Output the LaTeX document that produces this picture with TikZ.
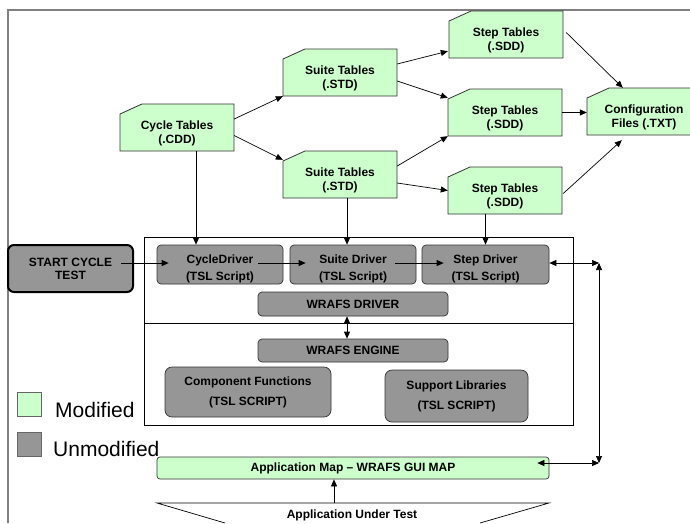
\documentclass[tikz,border=0pt]{standalone}
\usepackage{fontspec}
\setmainfont{Liberation Sans}
\usetikzlibrary{arrows.meta,calc}

\definecolor{modgreen}{HTML}{CCFFCC}
\definecolor{unmodgray}{HTML}{969696}
\definecolor{framegray}{HTML}{808080}

\tikzset{
  tblshape/.style={fill=modgreen, draw=black!80, line width=0.8pt},
  tblanchor/.style={rectangle, inner sep=0pt, minimum height=47pt},
  tbltext/.style={font=\fontsize{12}{14}\selectfont\bfseries, align=center, inner sep=0pt},
  drv/.style={rectangle, rounded corners=4pt, fill=unmodgray, draw=black!80, line width=0.7pt,
              inner sep=0pt, align=center, font=\fontsize{12}{17}\selectfont\bfseries},
  drvtxt/.style={inner sep=0pt, align=center, yshift=-4.5pt, font=\fontsize{12}{17}\selectfont\bfseries},
  lib/.style={drv, rounded corners=7pt, font=\fontsize{12}{20}\selectfont\bfseries},
  startbox/.style={drv, rounded corners=6pt, draw=black, line width=2pt,
                   font=\fontsize{12}{13}\selectfont\bfseries},
  appbox/.style={drv, fill=modgreen, rounded corners=3pt},
  legendsq/.style={rectangle, inner sep=0pt, minimum width=24pt, minimum height=24pt, draw=black!60, line width=0.6pt},
  legendtxt/.style={font=\fontsize{21}{23}\selectfont, inner sep=0pt, anchor=base west},
  arr/.style={-{Triangle[length=7pt,width=6pt]}, line width=0.7pt},
  biarr/.style={{Triangle[length=7pt,width=6pt]}-{Triangle[length=7pt,width=6pt]}, line width=0.7pt},
  plain/.style={line width=0.7pt}
}

% table file box with a cut top-left corner: name, left, top, width, text
\newcommand\tablebox[5]{%
  \filldraw[tblshape] (#2,#3+10) -- (#2+22,#3) -- (#2+#4,#3) -- (#2+#4,#3+47) -- (#2,#3+47) -- cycle;
  \node[tblanchor, minimum width=#4pt] (#1) at (#2+#4/2,#3+23.5) {};
  \node[tbltext] at ($(#1.center)+(0,5.5)$) {#5};
}

\begin{document}
\begin{tikzpicture}[x=1pt, y=-1pt]
\useasboundingbox (0,0) rectangle (690,523);
\fill[white] (0,0) rectangle (690,523);

% outer frame
\draw[framegray, line width=1.5pt] (690,10) -- (8,10) -- (8,523);

% test harness container, split into driver and engine parts
\draw[plain] (144,237) rectangle (573,425);
\draw[plain] (144,323) -- (573,323);

% data tables
\tablebox{cyc}{120}{104}{114}{Cycle Tables\\(.CDD)}
\tablebox{sta}{283}{49}{114}{Suite Tables\\(.STD)}
\tablebox{stb}{283}{151}{114}{Suite Tables\\(.STD)}
\tablebox{spa}{449}{11}{114}{Step Tables\\(.SDD)}
\tablebox{spb}{448}{89}{114}{Step Tables\\(.SDD)}
\tablebox{spc}{448}{167}{114}{Step Tables\\(.SDD)}
\begin{scope}
  \clip (0,0) rectangle (690,523);
  \tablebox{cfg}{587}{88}{114}{Configuration\\Files (.TXT)}
\end{scope}

% drivers and engine
\node[startbox, minimum width=125pt, minimum height=47pt] (start) at (70.5,268.5) {START CYCLE\\TEST};
\node[drv, minimum width=126pt, minimum height=39pt, label={[drvtxt]center:{CycleDriver\\(TSL Script)}}] (cdrv) at (220,264.5) {};
\node[drv, minimum width=126pt, minimum height=39pt, label={[drvtxt]center:{Suite Driver\\(TSL Script)}}] (sdrv) at (353,264.5) {};
\node[drv, minimum width=127pt, minimum height=39pt, label={[drvtxt]center:{Step Driver\\(TSL Script)}}] (stdrv) at (485.5,264.5) {};
\node[drv, minimum width=190pt, minimum height=24pt] (wdrv) at (353,304) {WRAFS DRIVER};
\node[drv, minimum width=190pt, minimum height=23pt] (weng) at (353,350.5) {WRAFS ENGINE};
\node[lib, minimum width=166pt, minimum height=50pt] (comp) at (248,392) {Component Functions\\(TSL SCRIPT)};
\node[lib, minimum width=143pt, minimum height=52pt] (supp) at (456.5,396) {Support Libraries\\(TSL SCRIPT)};
\node[appbox, minimum width=392pt, minimum height=22pt] (app) at (353,468) {Application Map -- WRAFS GUI MAP};

% application under test
\draw[plain] (225,523) -- (157,503) -- (549,503) -- (480,523);
\node[tbltext] (aut) at (352,515) {Application Under Test};

% legend
\node[legendsq, fill=modgreen] (legmod) at (29,404) {};
\node[legendsq, fill=unmodgray] (legunmod) at (29,444) {};
\node[legendtxt] (legmodtxt) at (55,417) {Modified};
\node[legendtxt] (legunmodtxt) at (53,456) {Unmodified};

% table flow
\draw[arr] ($(cyc.east)+(0,-8.5)$) -- (sta.south west);
\draw[arr] ($(cyc.east)+(0,8)$) -- ($(stb.north west)+(0,9)$);
\draw[arr] ($(sta.east)+(0,-8.5)$) -- ($(spa.south west)+(-1,-7)$);
\draw[arr] ($(sta.east)+(0,8.5)$) -- ($(spb.north west)+(0,9)$);
\draw[arr] ($(stb.east)+(0,-8.5)$) -- (spb.south west);
\draw[arr] ($(stb.east)+(0,8.5)$) -- (spc.west);
\draw[arr] ($(spa.east)+(3,-2)$) -- ($(cfg.north west)+(36,0)$);
\draw[arr] (spb.east) -- (spb.east -| cfg.west);
\draw[arr] ($(spc.east)+(1,3)$) -- ($(cfg.south west)+(35,5)$);

% tables feeding the drivers
\coordinate (cycdown) at ($(cyc.south)+(19,0)$);
\coordinate (stbdown) at ($(stb.south)+(7,0)$);
\draw[arr] (cycdown) -- (cycdown |- cdrv.north);
\draw[arr] (stbdown) -- (stbdown |- sdrv.north);
\draw[arr] (stdrv.north |- spc.south) -- (stdrv.north);

% driver chain
\coordinate (rowy) at (0,263);
\draw[arr] ($(start.east |- rowy)+(-13,0)$) -- ($(cdrv.west |- rowy)+(12,0)$);
\draw[arr] ($(cdrv.east |- rowy)+(-25,0)$) -- ($(sdrv.west |- rowy)+(16,0)$);
\draw[arr] ($(sdrv.east |- rowy)+(-21,0)$) -- ($(stdrv.west |- rowy)+(22,0)$);

% link between step driver and the GUI map
\coordinate (hubt) at (599,263);
\coordinate (hubb) at (599,463);
\draw[biarr] (stdrv.east |- rowy) -- (hubt);
\draw[biarr] (hubt) -- (hubb);
\draw[biarr] ($(app.east |- hubb)+(-12,0)$) -- (hubb);

% driver to engine
\draw[biarr] ($(wdrv.south)+(-6,0)$) -- ($(weng.north)+(-6,0)$);

% application to map
\coordinate (autin) at (334,503);
\draw[arr] (autin) -- (autin |- app.south);
\end{tikzpicture}
\end{document}
